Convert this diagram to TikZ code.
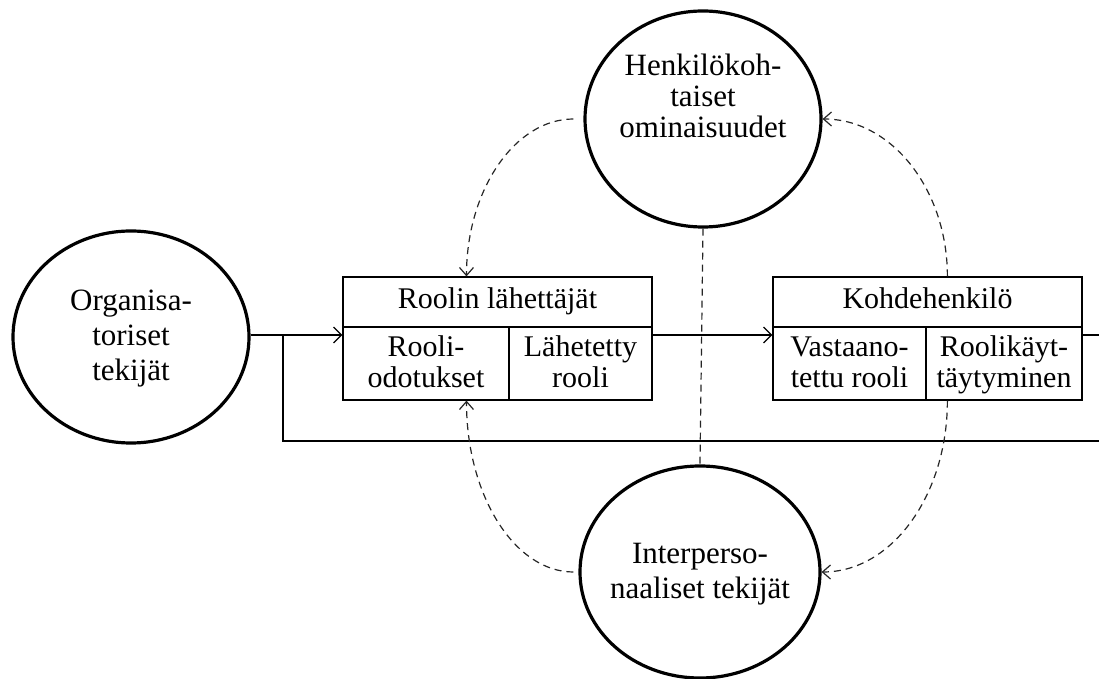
\documentclass[tikz,border=0pt]{standalone}
\usepackage{fontspec}
\setmainfont{Liberation Serif}
\usetikzlibrary{shapes.geometric,arrows.meta,calc}
\newcommand{\tp}{\vphantom{Ä}}
\newcommand{\bt}{\vphantom{y}}
\begin{document}
\begin{tikzpicture}[x=0.5pt,y=-0.5pt,
  circ/.style={ellipse,draw,line width=1.6pt,inner sep=0pt},
  cell/.style={draw,line width=0.6pt,inner sep=0pt,align=center,font=\fontsize{15}{15.5}\selectfont},
  head/.style={cell,text height=10.5pt,text depth=3.5pt},
  ctext/.style={align=center,font=\fontsize{15.5}{17.5}\selectfont},
  flow/.style={line width=0.6pt},
  fb/.style={line width=0.6pt,dash pattern=on 3.5pt off 2.5pt,draw=black!85},
  tip/.style={-{Straight Barb[length=4pt,width=8pt]}},
  ftip/.style={-{Straight Barb[length=4pt,width=7pt]}},
  ]
\useasboundingbox (0,0) rectangle (1099,679);

% circles
\node[circ,minimum width=118pt,minimum height=106pt] (org) at (131,337) {};
\node[ctext] (orgt) at (131,339) {Organisa-\\toriset\\tekijät};
\node[circ,minimum width=118pt,minimum height=108pt] (hk) at (703,119) {};
\node[ctext,font=\fontsize{15.5}{15.5}\selectfont] (hkt) at (703,96) {Henkilökoh-\\taiset\\ominaisuudet};
\node[circ,minimum width=120pt,minimum height=106pt] (ip) at (700,572) {};
\node[ctext] (ipt) at (700,574) {Interperso-\\naaliset tekijät};

% left box
\node[head,minimum width=154.5pt,minimum height=25pt] (rl) at (497.5,302) {Roolin lähettäjät};
\node[cell,minimum width=83pt,minimum height=36.5pt] (ro) at (426,363.5) {\tp Rooli-\\odotukset\bt};
\node[cell,minimum width=71.5pt,minimum height=36.5pt] (lr) at (580.5,363.5) {\tp Lähetetty\\rooli\bt};

% right box
\node[head,minimum width=154.5pt,minimum height=25pt] (kh) at (927.5,302) {Kohdehenkilö};
\node[cell,minimum width=76.5pt,minimum height=36.5pt] (vr) at (849.5,363.5) {\tp Vastaano-\\tettu rooli\bt};
\node[cell,minimum width=78pt,minimum height=36.5pt] (rk) at (1004,363.5) {\tp Roolikäyt-\\täytyminen\bt};

% coordinates
\coordinate (j) at (283,335);
\coordinate (fbR) at (1099,441);
\coordinate (outR) at (1099,335);
\coordinate (ta) at ($(rl.north west)!0.4!(rl.north east)$);
\coordinate (tb) at ($(rk.south west)!0.14!(rk.south east)$);

% solid flows
\draw[flow,tip] (org.east |- j) -- (ro.west |- j);
\draw[flow] (j) |- (fbR);
\draw[flow,tip] (lr.east |- j) -- (vr.west |- j);
\draw[flow] (rk.east |- outR) -- (outR);

% dashed influences
\draw[fb] (hk.south) -- (ip.north);
\draw[fb,ftip] ([xshift=-5pt]hk.west) .. controls (515,119) and (ta |- 0,190) .. (ta);
\draw[fb,ftip] ([xshift=-2.5pt]ip.west) .. controls (515,572) and (ta |- 0,496) .. (ta |- ro.south);
\draw[fb,ftip] (tb |- kh.north) .. controls (tb |- 0,190) and (892,119) .. (hk.east);
\draw[fb,ftip] (tb) .. controls (tb |- 0,495) and (892,572) .. (ip.east);
\end{tikzpicture}
\end{document}
